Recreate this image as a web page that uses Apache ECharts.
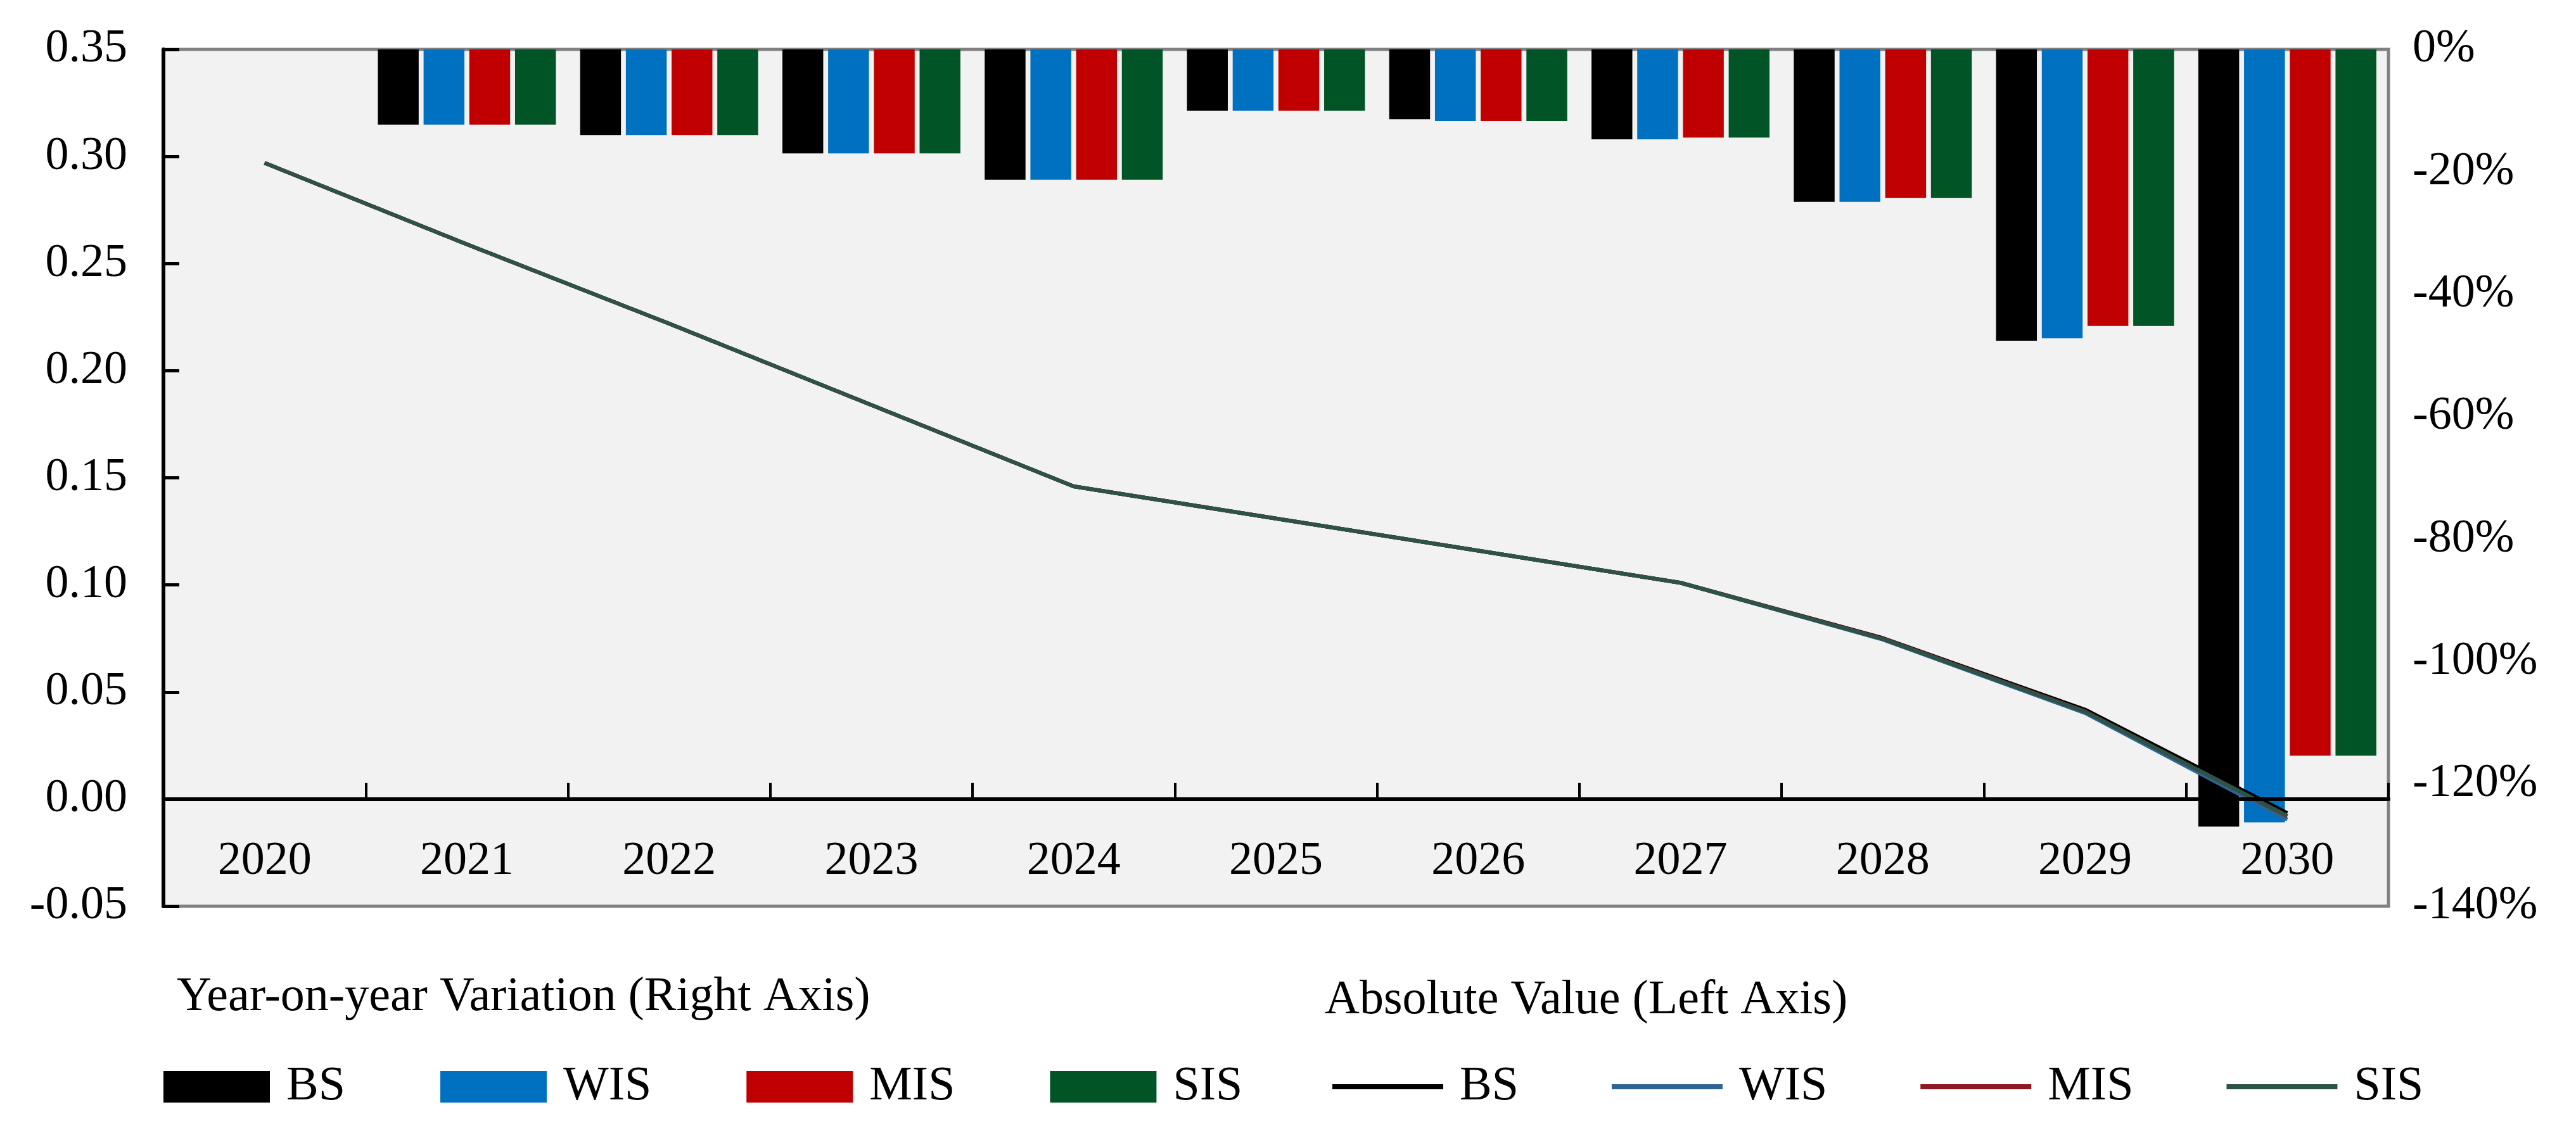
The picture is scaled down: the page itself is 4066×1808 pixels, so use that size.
<!DOCTYPE html>
<html>
<head>
<meta charset="utf-8">
<script src="https://cdn.jsdelivr.net/npm/echarts@6/dist/echarts.min.js"></script>
<style>
html,body{margin:0;padding:0;background:#fff;}
#c{width:4066px;height:1808px;}
</style>
</head>
<body>
<div id="c"></div>
<script>
// ---- data ----
const years = ['2020','2021','2022','2023','2024','2025','2026','2027','2028','2029','2030'];
// Year-on-year variation (%), right axis
const yoyBS  = [null, -12.3, -14.0, -17.0, -21.3, -10.0, -11.4, -14.7, -24.9, -47.6, -127.0];
const yoyWIS = [null, -12.3, -14.0, -17.0, -21.3, -10.0, -11.7, -14.7, -24.9, -47.2, -126.3];
const yoyMIS = [null, -12.3, -14.0, -17.0, -21.3, -10.0, -11.7, -14.4, -24.3, -45.2, -115.4];
const yoySIS = [null, -12.3, -14.0, -17.0, -21.3, -10.0, -11.7, -14.4, -24.3, -45.2, -115.4];
// Absolute value, left axis
const absBS  = [0.297, 0.259, 0.222, 0.184, 0.146, 0.131, 0.116, 0.101, 0.0752, 0.0418, -0.0065];
const absWIS = [0.297, 0.259, 0.222, 0.184, 0.146, 0.131, 0.116, 0.101, 0.0745, 0.0402, -0.0095];
const absMIS = [0.297, 0.259, 0.222, 0.184, 0.146, 0.131, 0.116, 0.101, 0.0750, 0.0410, -0.0080];
const absSIS = [0.297, 0.259, 0.222, 0.184, 0.146, 0.131, 0.116, 0.101, 0.0748, 0.0408, -0.0078];
const names = ['BS','WIS','MIS','SIS'];
const leftTicks = {min: -0.05, max: 0.35, interval: 0.05};
const rightTicks = {min: -140, max: 0, interval: 20};

const barColors = ['#000000', '#0070C0', '#C00000', '#005426'];
const lineColors = ['#000000', '#2E6494', '#8B1A24', '#2D5246'];
const FONT = 'Liberation Serif';

const yoy = [yoyBS, yoyWIS, yoyMIS, yoySIS];
const abs = [absBS, absWIS, absMIS, absSIS];

const series = [];
names.forEach((n, i) => {
  series.push({
    name: n, type: 'bar', xAxisIndex: 0, yAxisIndex: 1,
    data: yoy[i], barGap: '12%', barCategoryGap: '12%',
    itemStyle: {color: barColors[i]}, z: 2
  });
});
names.forEach((n, i) => {
  series.push({
    name: n + ' (abs)', type: 'line', xAxisIndex: 0, yAxisIndex: 0,
    data: abs[i], symbol: 'none', smooth: false,
    lineStyle: {color: lineColors[i], width: 6},
    itemStyle: {color: lineColors[i]}, z: 4
  });
});

const chart = echarts.init(document.getElementById('c'), null, {renderer: 'canvas'});
chart.setOption({
  animation: false,
  backgroundColor: '#ffffff',
  textStyle: {fontFamily: FONT},
  grid: {
    left: 258, right: 296, top: 78, bottom: 377,
    show: true, backgroundColor: '#F2F2F2', borderColor: '#808080', borderWidth: 5
  },
  xAxis: [{
    type: 'category', data: years, z: 5,
    axisLine: {show: true, onZero: true, onZeroAxisIndex: 0, lineStyle: {color: '#000', width: 6}},
    axisTick: {show: true, inside: true, length: 26, lineStyle: {color: '#000', width: 4}},
    axisLabel: {color: '#000', fontFamily: FONT, fontSize: 74, lineHeight: 74, margin: -107},
    splitLine: {show: false}
  }],
  yAxis: [{
    type: 'value', position: 'left',
    min: leftTicks.min, max: leftTicks.max, interval: leftTicks.interval,
    axisLine: {show: true, lineStyle: {color: '#000', width: 6}},
    axisTick: {show: true, inside: true, length: 25, lineStyle: {color: '#000', width: 5}},
    axisLabel: {color: '#000', fontFamily: FONT, fontSize: 74, margin: 57,
      formatter: v => v.toFixed(2)},
    splitLine: {show: false}
  }, {
    type: 'value', position: 'right',
    min: rightTicks.min, max: rightTicks.max, interval: rightTicks.interval,
    axisLine: {show: false}, axisTick: {show: false},
    axisLabel: {color: '#000', fontFamily: FONT, fontSize: 74, margin: 38,
      formatter: v => Math.round(v) + '%'},
    splitLine: {show: false}
  }],
  legend: [{
    data: names, left: 253, top: 1673, orient: 'horizontal',
    icon: 'rect', itemWidth: 168, itemHeight: 50, itemGap: 150,
    textStyle: {color: '#000', fontFamily: FONT, fontSize: 76, lineHeight: 74, padding: [0, 0, 0, 21]}
  }, {
    data: names.map(n => n + ' (abs)'), left: 2098, top: 1673, orient: 'horizontal',
    icon: 'rect', itemWidth: 175, itemHeight: 8, itemGap: 147,
    formatter: n => n.split(' ')[0],
    textStyle: {color: '#000', fontFamily: FONT, fontSize: 76, lineHeight: 74, padding: [0, 0, 0, 21]}
  }],
  graphic: [{
    type: 'text', x: 279, y: 1575,
    style: {text: 'Year-on-year Variation (Right Axis)', fill: '#000',
      font: '76px "Liberation Serif"', textVerticalAlign: 'middle', textAlign: 'left'}
  }, {
    type: 'text', x: 2091, y: 1580,
    style: {text: 'Absolute Value (Left Axis)', fill: '#000',
      font: '76px "Liberation Serif"', textVerticalAlign: 'middle', textAlign: 'left'}
  }],
  series: series
});
</script>
</body>
</html>
